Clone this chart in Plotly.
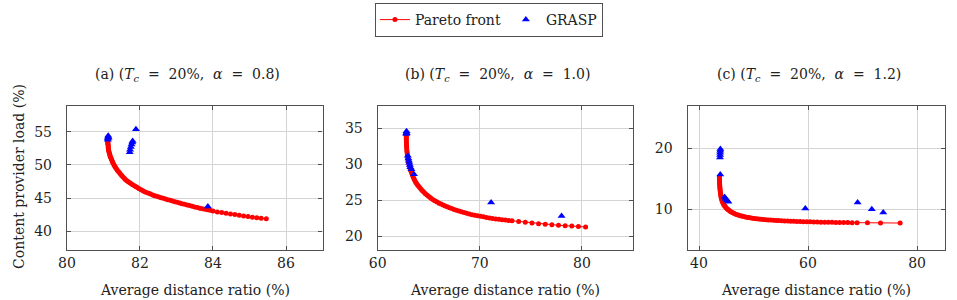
import plotly.graph_objects as go

# ---------------- data ----------------
pa_x = [81.12, 81.12, 81.12, 81.12, 81.13, 81.13, 81.13, 81.14, 81.14, 81.15, 81.16, 81.17,
        81.18, 81.19, 81.21, 81.22, 81.24, 81.25, 81.27, 81.29, 81.31, 81.33, 81.36, 81.38,
        81.41, 81.44, 81.47, 81.50, 81.53, 81.57, 81.60, 81.64, 81.68, 81.72, 81.76, 81.80,
        81.85, 81.89, 81.94, 81.98, 82.03, 82.08, 82.13, 82.18, 82.24, 82.29, 82.35, 82.40,
        82.46, 82.52, 82.58, 82.64, 82.70, 82.76, 82.83, 82.89, 82.96, 83.02, 83.09, 83.15,
        83.22, 83.29, 83.36, 83.43, 83.50, 83.57, 83.64, 83.71, 83.78, 83.85, 83.92, 84.00,
        84.12, 84.24, 84.36, 84.48, 84.60, 84.72, 84.84, 84.96, 85.08, 85.20, 85.32, 85.46]
pa_y = [53.6, 53.45, 53.3, 53.15, 53.0, 52.8, 52.6, 52.4, 52.2, 52.0, 51.8, 51.6,
        51.4, 51.2, 51.0, 50.8, 50.6, 50.4, 50.2, 50.0, 49.8, 49.6, 49.4, 49.2,
        49.0, 48.8, 48.6, 48.4, 48.2, 48.0, 47.8, 47.6, 47.45, 47.3, 47.15, 47.0,
        46.85, 46.7, 46.55, 46.4, 46.25, 46.1, 45.95, 45.85, 45.7, 45.6, 45.45, 45.35,
        45.25, 45.15, 45.05, 44.95, 44.85, 44.75, 44.65, 44.55, 44.45, 44.35, 44.25, 44.15,
        44.05, 43.95, 43.85, 43.75, 43.65, 43.55, 43.45, 43.38, 43.3, 43.22, 43.14, 43.05,
        42.9, 42.8, 42.7, 42.6, 42.5, 42.4, 42.3, 42.2, 42.1, 42.0, 41.95, 41.85]
ga_x = [81.12, 81.12, 81.13, 81.13, 81.14, 81.72, 81.73, 81.75, 81.77, 81.79, 81.80, 81.89, 83.86]
ga_y = [53.8, 54.0, 54.2, 54.4, 54.1, 51.9, 52.3, 52.7, 53.1, 53.4, 53.6, 55.4, 43.7]

pb_x = [62.80, 62.80, 62.80, 62.81, 62.81, 62.82, 62.83, 62.84, 62.85, 62.87, 62.89, 62.91,
        62.93, 62.96, 62.99, 63.03, 63.07, 63.11, 63.16, 63.21, 63.27, 63.33, 63.40, 63.47,
        63.55, 63.63, 63.72, 63.82, 63.92, 64.03, 64.15, 64.27, 64.40, 64.53, 64.67, 64.82,
        64.97, 65.13, 65.29, 65.46, 65.64, 65.82, 66.01, 66.20, 66.40, 66.60, 66.81, 67.03,
        67.25, 67.48, 67.71, 67.95, 68.20, 68.45, 68.71, 68.97, 69.24, 69.51, 69.79, 70.07,
        70.36, 70.65, 70.95, 71.25, 71.56, 71.87, 72.18, 72.50, 72.82, 73.15, 73.80, 74.45,
        75.10, 75.75, 76.40, 77.05, 77.70, 78.35, 79.00, 79.65, 80.35]
pb_y = [33.9, 33.7, 33.5, 33.25, 33.0, 32.75, 32.5, 32.25, 32.0, 31.75, 31.5, 31.25,
        31.0, 30.75, 30.5, 30.25, 30.0, 29.75, 29.5, 29.25, 29.0, 28.75, 28.5, 28.25,
        28.0, 27.75, 27.5, 27.3, 27.1, 26.9, 26.7, 26.5, 26.3, 26.1, 25.9, 25.72,
        25.55, 25.38, 25.2, 25.05, 24.9, 24.75, 24.6, 24.47, 24.35, 24.22, 24.1, 23.97,
        23.85, 23.72, 23.6, 23.5, 23.4, 23.3, 23.2, 23.1, 23.0, 22.92, 22.85, 22.77,
        22.7, 22.62, 22.55, 22.47, 22.4, 22.35, 22.3, 22.25, 22.2, 22.15, 22.05, 21.95,
        21.85, 21.75, 21.67, 21.6, 21.53, 21.47, 21.41, 21.36, 21.3]
gb_x = [62.80, 62.81, 62.82, 62.83, 62.95, 63.0, 63.05, 63.1, 63.15, 63.2, 63.3, 63.55, 71.1, 78.0]
gb_y = [34.2, 34.4, 34.6, 34.3, 31.2, 30.8, 30.5, 30.2, 29.9, 29.6, 29.3, 28.6, 24.7, 22.8]

pc_x = [43.75, 43.75, 43.76, 43.77, 43.78, 43.79, 43.81, 43.83, 43.85, 43.88, 43.91, 43.95,
        43.99, 44.04, 44.10, 44.17, 44.24, 44.33, 44.42, 44.53, 44.64, 44.77, 44.90, 45.05,
        45.20, 45.37, 45.55, 45.75, 45.95, 46.17, 46.40, 46.65, 46.90, 47.17, 47.45, 47.75,
        48.05, 48.37, 48.70, 49.05, 49.40, 49.77, 50.15, 50.55, 50.95, 51.37, 51.80, 52.25,
        52.70, 53.17, 53.65, 54.15, 54.65, 55.17, 55.70, 56.25, 56.80, 57.37, 57.95, 58.55,
        59.15, 59.77, 60.40, 61.05, 61.70, 62.37, 63.05, 63.72, 64.40, 65.10, 65.80, 66.55,
        67.30, 68.10, 69.00, 70.90, 73.30, 76.90]
pc_y = [15.3, 15.05, 14.8, 14.55, 14.3, 14.05, 13.8, 13.55, 13.3, 13.05, 12.8, 12.55,
        12.3, 12.05, 11.8, 11.57, 11.35, 11.15, 10.95, 10.77, 10.6, 10.45, 10.3, 10.15,
        10.0, 9.87, 9.75, 9.62, 9.5, 9.4, 9.3, 9.2, 9.1, 9.02, 8.95, 8.87,
        8.8, 8.73, 8.67, 8.61, 8.55, 8.5, 8.45, 8.4, 8.36, 8.32, 8.28, 8.24,
        8.21, 8.18, 8.15, 8.12, 8.1, 8.07, 8.05, 8.02, 8.0, 7.98, 7.96, 7.94,
        7.92, 7.9, 7.89, 7.87, 7.86, 7.84, 7.83, 7.82, 7.81, 7.8, 7.79, 7.78,
        7.77, 7.76, 7.76, 7.74, 7.72, 7.7]
gc_x = [43.85, 43.87, 43.88, 43.90, 43.92, 43.90, 44.7, 44.9, 45.1, 45.4, 59.5, 69.1, 71.7, 73.8]
gc_y = [18.5, 18.9, 19.3, 19.6, 19.9, 15.7, 12.0, 11.7, 11.4, 11.2, 10.1, 11.1, 9.95, 9.45]

EQ = "&nbsp;&nbsp;=&nbsp;&nbsp;"
titles = [f"(a) (<i>T<sub>c</sub></i>{EQ}20%,&nbsp; <i>α</i>{EQ}0.8)",
          f"(b) (<i>T<sub>c</sub></i>{EQ}20%,&nbsp; <i>α</i>{EQ}1.0)",
          f"(c) (<i>T<sub>c</sub></i>{EQ}20%,&nbsp; <i>α</i>{EQ}1.2)"]
x_ticks = [[80, 82, 84, 86], [60, 70, 80], [40, 60, 80]]
y_ticks = [[40, 45, 50, 55], [20, 25, 30, 35], [10, 20]]
x_ranges = [[80, 87], [60, 85], [37.9, 85.15]]
y_ranges = [[37.1, 58.9], [18.05, 38.1], [3.2, 27.0]]
x_label = "Average distance ratio (%)"
y_label = "Content provider load (%)"

# ---------------- figure ----------------
W, H = 957, 300
FONT = "DejaVu Serif"
FS = 14
RED = "#ff0000"
BLUE = "#0000ff"
FRAME = "#505050"
GRID = "#d4d4d4"
TXT = "#222222"

fig = go.Figure()
pareto = [(pa_x, pa_y), (pb_x, pb_y), (pc_x, pc_y)]
grasp = [(ga_x, ga_y), (gb_x, gb_y), (gc_x, gc_y)]
for i in range(3):
    xa = "x" if i == 0 else f"x{i+1}"
    ya = "y" if i == 0 else f"y{i+1}"
    fig.add_trace(go.Scatter(x=pareto[i][0], y=pareto[i][1], xaxis=xa, yaxis=ya,
                             mode="lines+markers", name="Pareto front",
                             line=dict(color=RED, width=1),
                             marker=dict(color=RED, size=5, symbol="circle"),
                             showlegend=(i == 0), legendgroup="p"))
for i in range(3):
    xa = "x" if i == 0 else f"x{i+1}"
    ya = "y" if i == 0 else f"y{i+1}"
    fig.add_trace(go.Scatter(x=grasp[i][0], y=grasp[i][1], xaxis=xa, yaxis=ya,
                             mode="markers", name="GRASP",
                             marker=dict(color=BLUE, size=7, symbol="triangle-up"),
                             showlegend=(i == 0), legendgroup="g"))

x_domains = [[58.5 / W, 316.5 / W], [372.2 / W, 630 / W], [685 / W, 945 / W]]
y_domain = [1 - 250.3 / H, 1 - 106 / H]

axis_common = dict(showline=True, mirror="ticks", linecolor=FRAME, linewidth=1.3,
                   showgrid=True, gridcolor=GRID, gridwidth=1, zeroline=False,
                   ticks="inside", ticklen=4, tickcolor=FRAME, tickwidth=1,
                   tickfont=dict(family=FONT, size=FS, color=TXT))
layout = {}
for i in range(3):
    xk = "xaxis" if i == 0 else f"xaxis{i+1}"
    yk = "yaxis" if i == 0 else f"yaxis{i+1}"
    xa = "x" if i == 0 else f"x{i+1}"
    ya = "y" if i == 0 else f"y{i+1}"
    layout[xk] = dict(axis_common, domain=x_domains[i], range=x_ranges[i],
                      tickvals=x_ticks[i], anchor=ya, ticklabelstandoff=0)
    layout[yk] = dict(axis_common, domain=y_domain, range=y_ranges[i],
                      tickvals=y_ticks[i], anchor=xa, ticklabelstandoff=11)

annotations = []
for i in range(3):
    xr = "x domain" if i == 0 else f"x{i+1} domain"
    annotations.append(dict(text=titles[i], xref=xr, x=0.47, yref="paper", y=1 - 75 / H,
                            xanchor="center", yanchor="middle", showarrow=False,
                            font=dict(family=FONT, size=FS, color=TXT)))
    annotations.append(dict(text=x_label, xref=xr, x=0.5, yref="paper", y=1 - 290 / H,
                            xanchor="center", yanchor="middle", showarrow=False,
                            font=dict(family=FONT, size=FS, color=TXT)))
annotations.append(dict(text=y_label, xref="paper", x=10 / W, yref="paper", y=1 - 176 / H,
                        xanchor="center", yanchor="middle", textangle=-90, showarrow=False,
                        font=dict(family=FONT, size=FS, color=TXT)))

fig.update_layout(
    width=W, height=H, margin=dict(l=0, r=0, t=0, b=0),
    paper_bgcolor="white", plot_bgcolor="white",
    annotations=annotations,
    legend=dict(orientation="h", x=484.5 / W, xanchor="center", y=1 - 3 / H, yanchor="top",
                bordercolor=FRAME, borderwidth=1, bgcolor="white",
                font=dict(family=FONT, size=FS, color=TXT),
                itemwidth=30, tracegroupgap=0),
    **layout,
)

fig.write_html("out.html")
